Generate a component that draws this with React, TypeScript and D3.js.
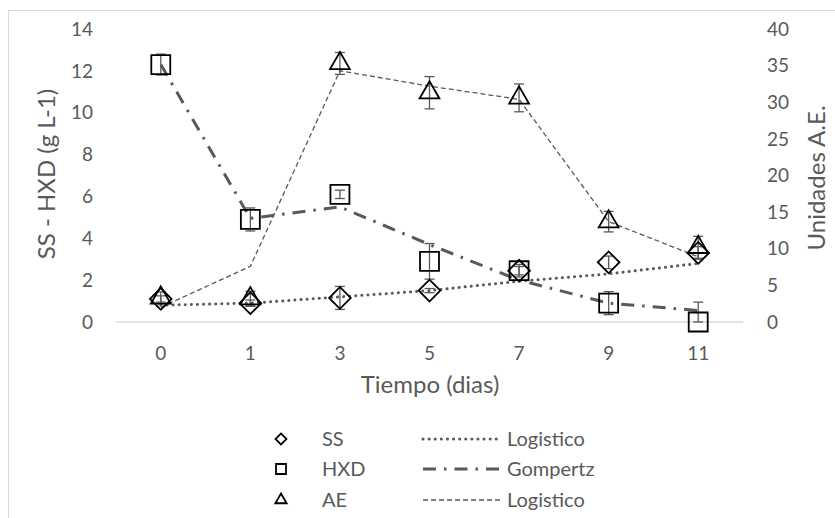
import React, { useRef, useEffect } from "react";
import * as d3 from "d3";

// days on the x axis
const dias = ["0", "1", "3", "5", "7", "9", "11"];

// SS (g L-1), left axis
const ss = [1.1, 0.9, 1.15, 1.5, 2.45, 2.85, 3.3];
const ssErr = [0.15, 0.15, 0.55, 0.1, 0.3, 0.3, 0.3];
const ssLogistico = [0.8, 0.9, 1.2, 1.5, 1.95, 2.3, 2.8];

// HXD (g L-1), left axis
const hxd = [12.3, 4.9, 6.1, 2.9, 2.45, 0.9, 0.0];
const hxdErr = [0.5, 0.55, 0.2, 0.85, 0.2, 0.55, 0.95];
const hxdGompertz = [12.3, 4.95, 5.5, 3.7, 2.0, 0.9, 0.55];

// AE (unidades), right axis
const ae = [3.3, 3.2, 35.3, 31.3, 30.6, 13.7, 10.2];
const aeErr = [0.8, 1.0, 1.5, 2.2, 1.9, 1.4, 1.5];
const aeLogistico = [2.0, 7.6, 34.3, 32.2, 30.4, 13.7, 8.9];

const leftTicks = [0, 2, 4, 6, 8, 10, 12, 14];
const rightTicks = [0, 5, 10, 15, 20, 25, 30, 35, 40];

const App = () => {
  const ref = useRef(null);

  useEffect(() => {
    const svg = d3.select(ref.current);
    svg.selectAll("*").remove();

    const font = "Lato, sans-serif";
    const textColor = "#595959";
    const lineColor = "#595959";

    const x = d3.scaleBand().domain(dias).range([116, 743]);
    const cx = (d) => x(d) + x.bandwidth() / 2;
    const yL = d3.scaleLinear().domain([0, 14]).range([322, 29]);
    const yR = d3.scaleLinear().domain([0, 40]).range([322, 29]);

    // chart frame
    svg
      .append("rect")
      .attr("x", 8.5)
      .attr("y", 10.5)
      .attr("width", 840)
      .attr("height", 520)
      .attr("fill", "white")
      .attr("stroke", "#d9d9d9");

    // x axis line
    svg
      .append("line")
      .attr("x1", x.range()[0])
      .attr("x2", x.range()[1])
      .attr("y1", yL(0))
      .attr("y2", yL(0))
      .attr("stroke", "#d9d9d9")
      .attr("stroke-width", 1.5);

    // tick labels
    svg
      .selectAll(".tl")
      .data(leftTicks)
      .enter()
      .append("text")
      .attr("x", 93)
      .attr("y", (d) => yL(d))
      .attr("dy", "0.35em")
      .attr("text-anchor", "end")
      .attr("font-family", font)
      .attr("font-size", 19)
      .attr("fill", textColor)
      .text((d) => d);

    svg
      .selectAll(".tr")
      .data(rightTicks)
      .enter()
      .append("text")
      .attr("x", 767)
      .attr("y", (d) => yR(d))
      .attr("dy", "0.35em")
      .attr("text-anchor", "start")
      .attr("font-family", font)
      .attr("font-size", 19)
      .attr("fill", textColor)
      .text((d) => d);

    svg
      .selectAll(".tx")
      .data(dias)
      .enter()
      .append("text")
      .attr("x", (d) => cx(d))
      .attr("y", 353)
      .attr("dy", "0.35em")
      .attr("text-anchor", "middle")
      .attr("font-family", font)
      .attr("font-size", 19)
      .attr("fill", textColor)
      .text((d) => d);

    // axis titles
    svg
      .append("text")
      .attr("x", 430)
      .attr("y", 385)
      .attr("dy", "0.35em")
      .attr("text-anchor", "middle")
      .attr("font-family", font)
      .attr("font-size", 24)
      .attr("fill", textColor)
      .text("Tiempo (dias)");

    svg
      .append("text")
      .attr("transform", "translate(47,174) rotate(-90)")
      .attr("dy", "0.35em")
      .attr("text-anchor", "middle")
      .attr("font-family", font)
      .attr("font-size", 24)
      .attr("fill", textColor)
      .text("SS - HXD (g L-1)");

    svg
      .append("text")
      .attr("transform", "translate(817,178) rotate(-90)")
      .attr("dy", "0.35em")
      .attr("text-anchor", "middle")
      .attr("font-family", font)
      .attr("font-size", 24)
      .attr("fill", textColor)
      .text("Unidades A.E.");

    // fitted lines
    const ssStyle = { w: 3, dash: "0.1 6", cap: "round" };
    const gompStyle = { w: 3, dash: "13 8 2.5 8", cap: "butt" };
    const aeStyle = { w: 1.3, dash: "5 3", cap: "butt" };

    const drawLine = (vals, y, st) => {
      const line = d3
        .line()
        .x((d, i) => cx(dias[i]))
        .y((d) => y(d));
      svg
        .append("path")
        .attr("d", line(vals))
        .attr("fill", "none")
        .attr("stroke", lineColor)
        .attr("stroke-width", st.w)
        .attr("stroke-dasharray", st.dash)
        .attr("stroke-linecap", st.cap);
    };
    drawLine(aeLogistico, yR, aeStyle);
    drawLine(hxdGompertz, yL, gompStyle);
    drawLine(ssLogistico, yL, ssStyle);

    // error bars (lower end kept at the axis minimum)
    const drawErr = (vals, errs, y) => {
      const g = svg.append("g").attr("stroke", lineColor).attr("stroke-width", 1.3);
      vals.forEach((v, i) => {
        const px = cx(dias[i]);
        const top = y(v + errs[i]);
        const bot = y(Math.max(0, v - errs[i]));
        g.append("line").attr("x1", px).attr("x2", px).attr("y1", top).attr("y2", bot);
        g.append("line").attr("x1", px - 5).attr("x2", px + 5).attr("y1", top).attr("y2", top);
        g.append("line").attr("x1", px - 5).attr("x2", px + 5).attr("y1", bot).attr("y2", bot);
      });
    };
    drawErr(ss, ssErr, yL);
    drawErr(hxd, hxdErr, yL);
    drawErr(ae, aeErr, yR);

    // markers
    const diamond = d3.symbol().type(d3.symbolSquare).size(235);
    const square = d3.symbol().type(d3.symbolSquare).size(360);
    const triangle = d3.symbol().type(d3.symbolTriangle).size(170);

    const drawMarks = (vals, y, sym, rot) => {
      svg
        .append("g")
        .selectAll("path")
        .data(vals)
        .enter()
        .append("path")
        .attr("d", sym())
        .attr(
          "transform",
          (d, i) => `translate(${cx(dias[i])},${y(d)}) rotate(${rot})`
        )
        .attr("fill", "none")
        .attr("stroke", "black")
        .attr("stroke-width", 1.8);
    };
    drawMarks(ss, yL, diamond, 45);
    drawMarks(hxd, yL, square, 0);
    drawMarks(ae, yR, triangle, 0);

    // legend
    const rows = [
      { name: "SS", sym: d3.symbol().type(d3.symbolSquare).size(60), rot: 45, fit: "Logistico", st: ssStyle },
      { name: "HXD", sym: d3.symbol().type(d3.symbolSquare).size(100), rot: 0, fit: "Gompertz", st: gompStyle },
      { name: "AE", sym: d3.symbol().type(d3.symbolTriangle).size(55), rot: 0, fit: "Logistico", st: aeStyle },
    ];
    const ly = [439, 469, 500];
    rows.forEach((r, i) => {
      svg
        .append("path")
        .attr("d", r.sym())
        .attr("transform", `translate(281,${ly[i]}) rotate(${r.rot})`)
        .attr("fill", "none")
        .attr("stroke", "black")
        .attr("stroke-width", 1.8);
      svg
        .append("text")
        .attr("x", 322)
        .attr("y", ly[i])
        .attr("dy", "0.35em")
        .attr("font-family", font)
        .attr("font-size", 20)
        .attr("fill", textColor)
        .text(r.name);
      svg
        .append("line")
        .attr("x1", 423)
        .attr("x2", 502)
        .attr("y1", ly[i])
        .attr("y2", ly[i])
        .attr("stroke", lineColor)
        .attr("stroke-width", r.st.w)
        .attr("stroke-dasharray", r.st.dash)
        .attr("stroke-linecap", r.st.cap);
      svg
        .append("text")
        .attr("x", 507)
        .attr("y", ly[i])
        .attr("dy", "0.35em")
        .attr("font-family", font)
        .attr("font-size", 20)
        .attr("fill", textColor)
        .text(r.fit);
    });
  }, []);

  return (
    <>
      <style>{`body{margin:0}`}</style>
      <svg ref={ref} width={835} height={518} style={{ display: "block" }} />
    </>
  );
};

export default App;
